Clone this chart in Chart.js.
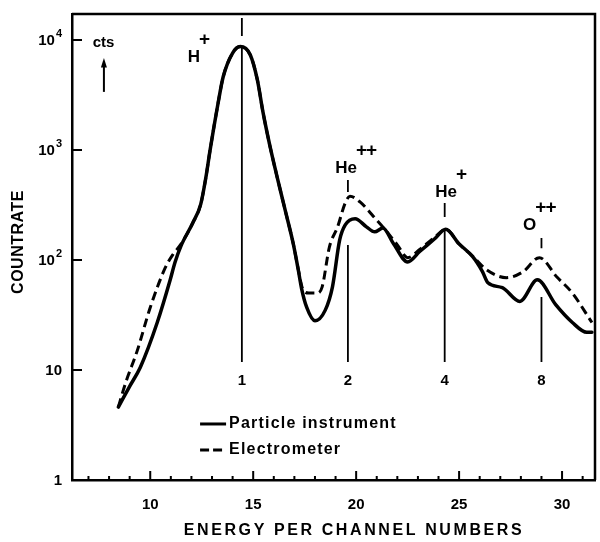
<!DOCTYPE html>
<html lang="en">
<head>
<meta charset="utf-8">
<title>Countrate vs energy per channel</title>
<script src="https://cdn.jsdelivr.net/npm/chart.js"></script>
<style>
  html, body { margin: 0; padding: 0; background: #fff; }
  canvas { display: block; }
</style>
</head>
<body>
<canvas id="myChart" width="600" height="542"></canvas>
<script>
// Particle instrument (solid line)
const particleX = [8.45, 9.0, 9.52, 10.34, 10.97, 11.2, 11.5, 12.07, 12.45, 12.7, 12.9, 13.1, 13.3, 13.54, 14.0, 14.37, 14.86, 15.2, 15.48, 15.82, 16.16, 16.55, 16.94, 17.19, 17.35, 17.6, 18.0, 18.5, 18.85, 19.2, 19.47, 19.95, 20.5, 20.9, 21.3, 21.8, 22.5, 23.1, 23.8, 24.35, 25.0, 25.66, 26.14, 26.4, 27.1, 27.95, 28.8, 29.7, 30.5, 31.2, 31.45];
const particleY = [4.6, 7.1, 10.6, 27, 66, 95, 135, 218, 320, 560, 980, 1650, 2700, 4600, 7600, 8700, 7300, 4350, 2180, 1070, 570, 285, 142, 81, 55, 37, 28, 35, 57, 152, 208, 237, 200, 180, 195, 142, 96, 120, 155, 190, 140, 107, 78, 62, 56, 42, 66, 39, 27, 22, 22];

// Electrometer (dashed line)
const electroX = [8.45, 8.8, 9.37, 10.0, 10.73, 11.1, 11.5, 12.07, 12.45, 12.7, 12.9, 13.1, 13.3, 13.54, 14.0, 14.37, 14.86, 15.2, 15.48, 15.82, 16.16, 16.55, 16.94, 17.19, 17.4, 17.7, 18.1, 18.35, 18.7, 19.1, 19.47, 19.7, 20.2, 21.0, 21.5, 22.0, 22.5, 23.1, 23.8, 24.35, 25.0, 25.66, 26.35, 27.3, 28.1, 28.9, 29.75, 30.5, 31.45];
const electroY = [4.6, 7.6, 15, 37, 85, 112, 140, 218, 320, 560, 980, 1650, 2700, 4600, 7600, 8700, 7300, 4350, 2180, 1070, 570, 285, 142, 82, 55, 50, 50, 57, 131, 200, 330, 380, 335, 230, 180, 137, 105, 125, 160, 190, 140, 108, 81, 69, 78, 105, 70, 50, 27];

const xTicks = [10, 15, 20, 25, 30];
const yTicks = [1, 10, 100, 1000, 10000];
const yTickBase = ['1', '10', '10', '10', '10'];
const yTickExp = ['', '', '2', '3', '4'];

// peak annotations
const ionNames = ['H', 'He', 'He', 'O'];
const ionCharges = ['+', '++', '+', '++'];
const ionLabelX = [12.42, 20.04, 24.9, 28.75];
const ionLabelY = [6300, 620, 374, 187];
const peakX = [14.45, 19.6, 24.3, 29.0];
const peakNumbers = ['1', '2', '4', '8'];
const peakLineTop = [8700, 137, 190, 46];
const peakLineBottom = 11.8;
const peakNumberY = 7.9;
const peakTickTop = [15850, 534, 330, 158];
const peakTickBottom = [10870, 415, 246, 128];

const legendLabels = ['Particle instrument', 'Electrometer'];
const legendX = 12.42;
const legendY = [3.23, 1.87];

const FONT = "'Liberation Sans', Arial, sans-serif";

const decorations = {
  id: 'decorations',
  afterDraw(chart) {
    const { ctx, chartArea: a, scales } = chart;
    const px = v => scales.x.getPixelForValue(v);
    const py = v => scales.y.getPixelForValue(v);
    ctx.save();
    ctx.strokeStyle = '#000';
    ctx.fillStyle = '#000';
    ctx.lineCap = 'butt';

    // top and right frame
    ctx.lineWidth = 2.5;
    ctx.beginPath();
    ctx.moveTo(a.left, a.top);
    ctx.lineTo(a.right, a.top);
    ctx.lineTo(a.right, a.bottom);
    ctx.stroke();

    // inward ticks
    ctx.lineWidth = 2;
    ctx.beginPath();
    for (let v = 7; v <= 31; v++) {
      const len = xTicks.includes(v) ? 9 : 4;
      ctx.moveTo(px(v), a.bottom);
      ctx.lineTo(px(v), a.bottom - len);
    }
    yTicks.slice(1).forEach(v => {
      ctx.moveTo(a.left, py(v));
      ctx.lineTo(a.left + 10, py(v));
    });
    ctx.stroke();

    // y tick labels with exponents
    ctx.textBaseline = 'middle';
    ctx.textAlign = 'right';
    yTicks.forEach((v, i) => {
      const right = a.left - 10;
      const y = py(v);
      let w = 0;
      if (yTickExp[i]) {
        ctx.font = 'bold 11px ' + FONT;
        ctx.fillText(yTickExp[i], right, y - 6);
        w = ctx.measureText(yTickExp[i]).width + 1;
      }
      ctx.font = 'bold 15px ' + FONT;
      ctx.fillText(yTickBase[i], right - w, y + 1);
    });

    // peak marker lines
    ctx.lineWidth = 1.8;
    ctx.beginPath();
    peakX.forEach((x, i) => {
      ctx.moveTo(px(x), py(peakTickTop[i]));
      ctx.lineTo(px(x), py(peakTickBottom[i]));
      ctx.moveTo(px(x), py(peakLineTop[i]));
      ctx.lineTo(px(x), py(peakLineBottom));
    });
    ctx.stroke();

    ctx.textAlign = 'center';
    ctx.font = 'bold 15px ' + FONT;
    peakX.forEach((x, i) => ctx.fillText(peakNumbers[i], px(x), py(peakNumberY)));

    // ion labels
    ctx.textBaseline = 'alphabetic';
    ionNames.forEach((n, i) => {
      const x = px(ionLabelX[i]);
      const y = py(ionLabelY[i]);
      ctx.font = 'bold 17px ' + FONT;
      ctx.textAlign = 'right';
      ctx.fillText(n, x, y);
      ctx.font = 'bold 19px ' + FONT;
      ctx.textAlign = 'left';
      ctx.letterSpacing = '-1px';
      ctx.fillText(ionCharges[i], x - 1, y - 17);
      ctx.letterSpacing = '0px';
    });

    // cts arrow
    ctx.font = 'bold 15px ' + FONT;
    ctx.textAlign = 'center';
    ctx.fillText('cts', px(7.73), py(8630));
    const ax = px(7.75);
    ctx.lineWidth = 2;
    ctx.beginPath();
    ctx.moveTo(ax, py(3370));
    ctx.lineTo(ax, py(6000));
    ctx.stroke();
    ctx.beginPath();
    ctx.moveTo(ax, py(6860));
    ctx.lineTo(ax - 3, py(5600));
    ctx.lineTo(ax + 3, py(5600));
    ctx.closePath();
    ctx.fill();

    // legend
    ctx.textAlign = 'left';
    ctx.textBaseline = 'middle';
    ctx.font = 'bold 16px ' + FONT;
    ctx.letterSpacing = '1.2px';
    legendLabels.forEach((t, i) => {
      const x = px(legendX);
      const y = py(legendY[i]);
      ctx.lineWidth = 3;
      ctx.setLineDash(i === 1 ? [9, 4] : []);
      ctx.beginPath();
      ctx.moveTo(x, y);
      ctx.lineTo(x + 26, y);
      ctx.stroke();
      ctx.setLineDash([]);
      ctx.fillText(t, x + 29, y);
    });

    // axis titles
    ctx.font = 'bold 16px ' + FONT;
    ctx.letterSpacing = '2.6px';
    ctx.textAlign = 'center';
    ctx.fillText('ENERGY PER CHANNEL NUMBERS', 354, 531);
    ctx.letterSpacing = '0.5px';
    ctx.translate(19, 242);
    ctx.rotate(-Math.PI / 2);
    ctx.fillText('COUNTRATE', 0, 0);
    ctx.restore();
  }
};

const ctx = document.getElementById('myChart').getContext('2d');
new Chart(ctx, {
  type: 'scatter',
  data: {
    datasets: [{
      label: 'Particle instrument',
      data: particleX.map((x, i) => ({ x, y: particleY[i] })),
      showLine: true,
      borderColor: '#000',
      borderWidth: 3.5,
      pointRadius: 0,
      cubicInterpolationMode: 'monotone',
      borderJoinStyle: 'round',
      borderCapStyle: 'round'
    }, {
      label: 'Electrometer',
      data: electroX.map((x, i) => ({ x, y: electroY[i] })),
      showLine: true,
      borderColor: '#000',
      borderWidth: 3,
      borderDash: [9, 5],
      pointRadius: 0,
      cubicInterpolationMode: 'monotone'
    }]
  },
  options: {
    responsive: false,
    animation: false,
    layout: { padding: { top: 14, right: 5, left: 0, bottom: 0 } },
    plugins: { legend: { display: false }, tooltip: { enabled: false } },
    scales: {
      x: {
        type: 'linear',
        min: 6.2,
        max: 31.6,
        afterBuildTicks: s => { s.ticks = xTicks.map(v => ({ value: v })); },
        afterFit: s => { s.height = 62; },
        grid: { display: false },
        border: { display: true, color: '#000', width: 2.5 },
        ticks: { color: '#000', padding: 8, font: { family: FONT, size: 15, weight: 'bold' } }
      },
      y: {
        type: 'logarithmic',
        min: 1,
        max: 17200,
        afterBuildTicks: s => { s.ticks = yTicks.map(v => ({ value: v })); },
        afterFit: s => { s.width = 72; },
        grid: { display: false },
        border: { display: true, color: '#000', width: 2.5 },
        ticks: { display: false }
      }
    }
  },
  plugins: [decorations]
});
</script>
</body>
</html>
